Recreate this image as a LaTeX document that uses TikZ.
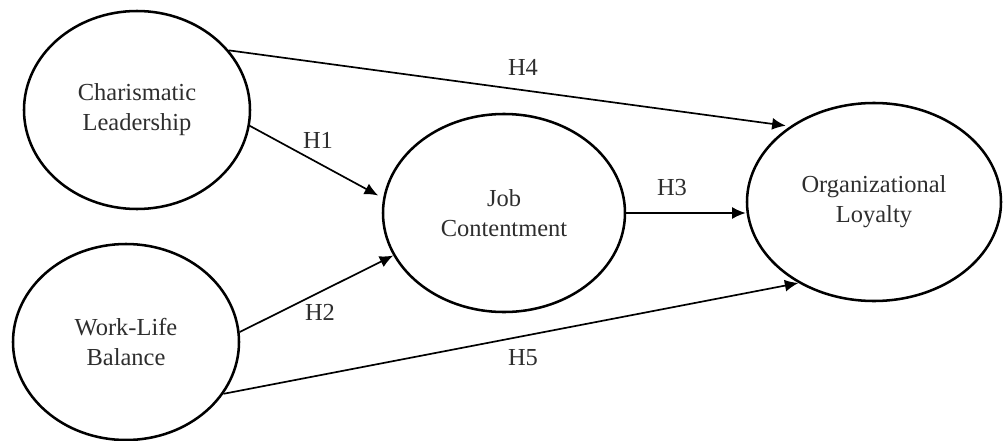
\documentclass[tikz,border=0pt]{standalone}
\usepackage{fontspec}
\setmainfont{Liberation Serif}
\usepackage{tikz}
\usetikzlibrary{arrows.meta,shapes.geometric}
\tikzset{
	construct/.style={draw, ellipse, line width=1.8pt, inner sep=0pt, align=center, text=black!82, font=\fontsize{17.4}{21.4}\selectfont},
	path/.style={line width=1.2pt, -{Latex[length=3.4mm, width=3mm]}},
	hyp/.style={text=black!82, font=\fontsize{17.4}{21.4}\selectfont}
}

\begin{document}
\begin{tikzpicture}
			%%%%% START %%%%%
			
			\useasboundingbox (0, 0) rectangle (25.075, -11.025);
			
			\node[construct, minimum width=5.65cm, minimum height=4.95cm] (cl) at (3.425, -2.75) {Charismatic\\Leadership};
			\node[construct, minimum width=5.65cm, minimum height=4.9cm] (wlb) at (3.15, -8.55) {Work-Life\\Balance};
			\node[construct, minimum width=6.05cm, minimum height=4.95cm] (jc) at (12.6, -5.325) {Job\\Contentment};
			\node[construct, minimum width=6.35cm, minimum height=4.95cm] (ol) at (21.85, -5.05) {Organizational\\Loyalty};
			
			\draw[path, shorten >=4pt] (cl.-8.5) -- (jc.173);
			\draw[path] (wlb.5.7) -- (jc.201.4);
			\draw[path] (jc.east) -- (jc.east -| ol.west);
			\draw[path, shorten >=3pt] (cl.33.7) -- (ol.138.4);
			\draw[path] (wlb.-28.9) -- (ol.227.1);
			
			\node[hyp] (h1) at (7.95, -3.5) {H1};
			\node[hyp] (h2) at (8.0, -7.8) {H2};
			\node[hyp] (h3) at (16.8, -4.7) {H3};
			\node[hyp] (h4) at (13.075, -1.675) {H4};
			\node[hyp] (h5) at (13.075, -8.95) {H5};
			
			%%%%% END %%%%%
		\end{tikzpicture}
\end{document}
